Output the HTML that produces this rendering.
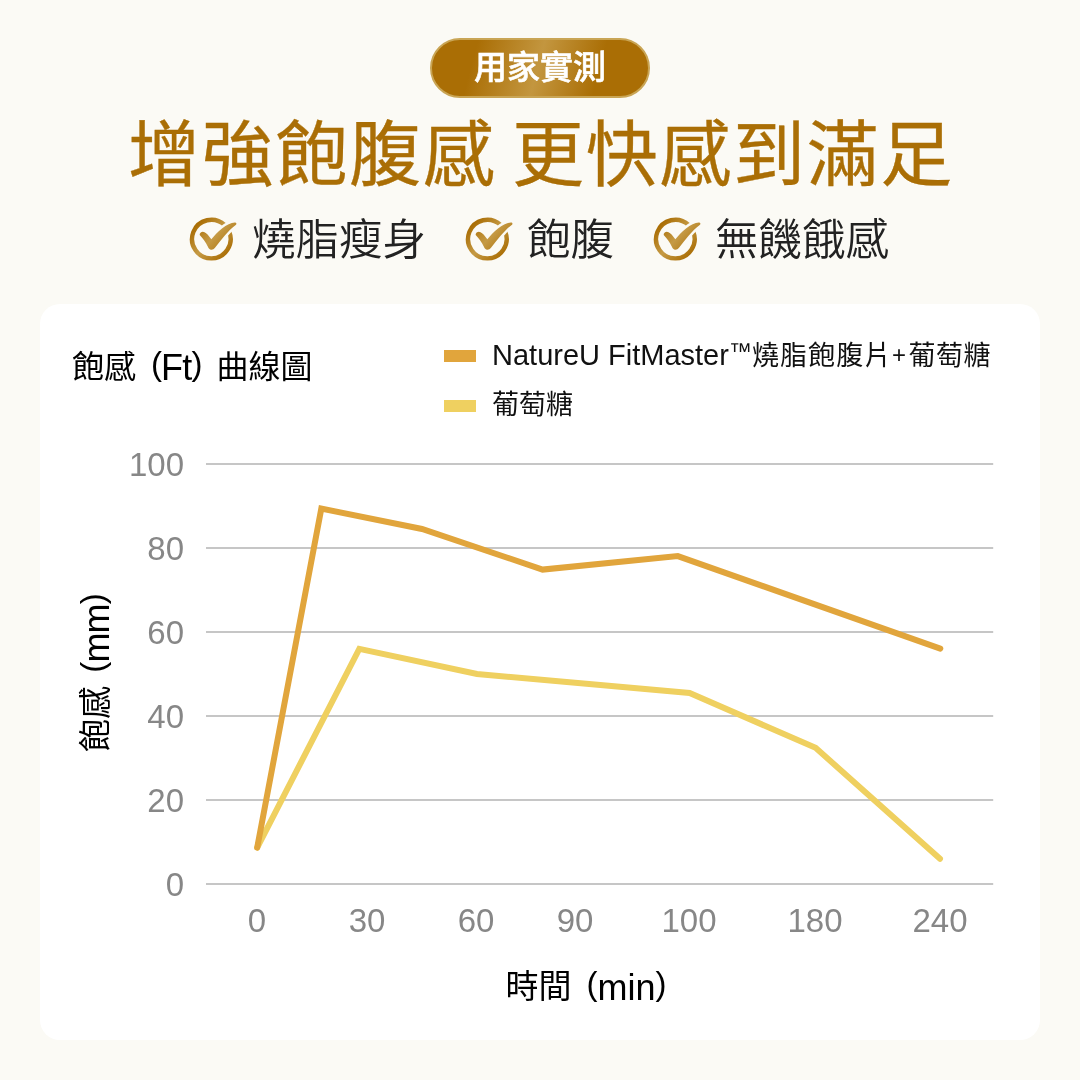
<!DOCTYPE html>
<html lang="zh-Hant">
<head>
<meta charset="utf-8">
<title>增強飽腹感 更快感到滿足</title>
<style>
*{margin:0;padding:0;box-sizing:border-box}
html,body{width:1080px;height:1080px;overflow:hidden}
body{background:#fbfaf5;font-family:"Liberation Sans","Noto Sans CJK TC",sans-serif;position:relative;color:#000}
.abs{position:absolute;white-space:nowrap;will-change:transform}
.pill{left:430px;top:38px;width:220px;height:60px;border-radius:30px;
  background:linear-gradient(105deg,#aa6e05 0%,#aa6e05 20%,#c3963f 49%,#aa6e05 76%,#aa6e05 100%);
  border:2px solid #c9a555;color:#fff;font-weight:500;-webkit-text-stroke:0.6px #fff;font-size:33px;line-height:56px;text-align:center;
  font-family:"Liberation Sans","Noto Sans CJK TC",sans-serif}
.headline{left:0;width:1080px;top:101px;text-align:center;font-size:72px;letter-spacing:1.65px;word-spacing:-6px;padding-left:2px;line-height:108px;color:#aa6e05;font-weight:400;-webkit-text-stroke:0.35px #aa6e05;
  font-family:"Liberation Sans","Noto Sans CJK TC",sans-serif}
.checks{top:208px;left:0;width:1080px;height:64px}
.chk{font-size:43.5px;line-height:64px;color:#222;font-weight:350;top:0}
.card{left:40px;top:304px;width:1000px;height:736px;border-radius:20px;background:#fff}
.title{left:72px;top:343px;font-size:32px;line-height:48px;color:#000;word-spacing:6px}
.leg{left:492px;font-size:27px;line-height:40px;color:#111}
.sw{left:444px;width:32px;height:12px}
.yl{width:100px;left:84px;text-align:right;font-size:33px;line-height:40px;color:#878787}
.xl{width:120px;text-align:center;font-size:33px;line-height:40px;color:#878787;top:901px}
.xt{left:386px;width:400px;text-align:center;top:963px;font-size:33px;word-spacing:6px;line-height:48px}
.yt{left:96px;top:673px;width:0;height:0}
.yt>span{position:absolute;left:-200px;top:-24px;width:400px;text-align:center;font-size:33px;word-spacing:4px;line-height:48px;transform:rotate(-90deg);transform-origin:50% 50%;white-space:nowrap}
svg{position:absolute;left:0;top:0}
.la{font-family:"Liberation Sans",sans-serif;font-size:36px;letter-spacing:-0.8px;position:relative;top:2px}
.pr{font-size:33px;position:relative;top:-5px}
.lb{font-family:"Liberation Sans",sans-serif;font-size:29px}
.tm{font-size:23px;vertical-align:6px}
.la,.lb,.tm,.pl,.pr{line-height:0}
.pl{font-family:"Liberation Sans",sans-serif;font-size:24px;margin-left:-0.5px;margin-right:2.5px;position:relative;top:-2px}
</style>
</head>
<body>
<div class="abs pill">用家實測</div>
<div class="abs headline">增強飽腹感 更快感到滿足</div>

<div class="abs checks">
  <div class="abs chk" style="left:252px">燒脂瘦身</div>
  <div class="abs chk" style="left:527px">飽腹</div>
  <div class="abs chk" style="left:715px">無饑餓感</div>
</div>

<div class="abs card"></div>
<div class="abs title">飽感 <span class="la"><span class="pr">(</span>Ft<span class="pr">)</span></span> 曲線圖</div>

<div class="abs sw" style="top:350px;background:#e1a53c"></div>
<div class="abs leg" style="top:336px"><span class="lb">NatureU FitMaster<span class="tm">™</span></span><span style="letter-spacing:1.1px">燒脂飽腹片</span><span class="pl">+</span><span style="letter-spacing:0.6px">葡萄糖</span></div>
<div class="abs sw" style="top:400px;background:#efd060"></div>
<div class="abs leg" style="top:385px">葡萄糖</div>

<div class="abs yl" style="top:445px">100</div>
<div class="abs yl" style="top:529px">80</div>
<div class="abs yl" style="top:613px">60</div>
<div class="abs yl" style="top:697px">40</div>
<div class="abs yl" style="top:781px">20</div>
<div class="abs yl" style="top:865px">0</div>

<div class="abs xl" style="left:197px">0</div>
<div class="abs xl" style="left:307px">30</div>
<div class="abs xl" style="left:416px">60</div>
<div class="abs xl" style="left:515px">90</div>
<div class="abs xl" style="left:629px">100</div>
<div class="abs xl" style="left:755px">180</div>
<div class="abs xl" style="left:880px">240</div>

<div class="abs xt">時間 <span class="la" style="letter-spacing:0"><span class="pr">(</span>min<span class="pr">)</span></span></div>
<div class="abs yt"><span>飽感 <span class="la"><span class="pr">(</span>mm<span class="pr">)</span></span></span></div>

<svg width="1080" height="1080" viewBox="0 0 1080 1080">
  <defs>
    <linearGradient id="gg" gradientUnits="userSpaceOnUse" x1="8" y1="8" x2="48" y2="46">
      <stop offset="0" stop-color="#aa6e05"/>
      <stop offset="0.12" stop-color="#aa6e05"/>
      <stop offset="0.5" stop-color="#c59a45"/>
      <stop offset="0.9" stop-color="#aa6e05"/>
      <stop offset="1" stop-color="#aa6e05"/>
    </linearGradient>
    <g id="chk">
      <path d="M40.51 12.98 A19.3 19.3 0 1 0 45.24 19.87" fill="none" stroke="url(#gg)" stroke-width="4.4"/>
      <path id="ckp" d="M15.7 23 C15.4 21 17.5 19.6 19.4 19.9 C21 20.2 22.5 21.3 23.6 22.6 L27.3 27.3 C30 24 34 19.3 38 16.4 C42.5 13 47 10.9 50.8 10.5 C52.6 10.4 53 12.1 51.7 13 C48 15.6 44.2 19.6 40.6 23.8 C37 28 33.8 32 31 35.8 C30 37.2 28.6 37.8 27.2 37.7 C25.6 37.6 24.6 36.3 23.9 34.7 C21.8 30.4 19 26.6 15.7 23 Z" fill="#fbfaf5" stroke="#fbfaf5" stroke-width="5" stroke-linejoin="round"/>
      <path d="M15.7 23 C15.4 21 17.5 19.6 19.4 19.9 C21 20.2 22.5 21.3 23.6 22.6 L27.3 27.3 C30 24 34 19.3 38 16.4 C42.5 13 47 10.9 50.8 10.5 C52.6 10.4 53 12.1 51.7 13 C48 15.6 44.2 19.6 40.6 23.8 C37 28 33.8 32 31 35.8 C30 37.2 28.6 37.8 27.2 37.7 C25.6 37.6 24.6 36.3 23.9 34.7 C21.8 30.4 19 26.6 15.7 23 Z" fill="url(#gg)"/>
    </g>
  </defs>
  <use href="#chk" x="184" y="212"/>
  <use href="#chk" x="460" y="212"/>
  <use href="#chk" x="648" y="212"/>
  <g stroke="#c6c6c6" stroke-width="1.8">
    <line x1="206" y1="464" x2="993.2" y2="464"/>
    <line x1="206" y1="548" x2="993.2" y2="548"/>
    <line x1="206" y1="632" x2="993.2" y2="632"/>
    <line x1="206" y1="716" x2="993.2" y2="716"/>
    <line x1="206" y1="800" x2="993.2" y2="800"/>
    <line x1="206" y1="884" x2="993.2" y2="884"/>
  </g>
  <polyline fill="none" stroke="#efd060" stroke-width="6" stroke-linejoin="miter" stroke-linecap="round"
    points="257.2,847.6 359.3,648.8 477,674 689.6,693 815.6,747.8 940,858.7"/>
  <polyline fill="none" stroke="#e1a53c" stroke-width="6" stroke-linejoin="miter" stroke-linecap="round"
    points="257.2,847.6 321.3,508.6 422,529 542.6,569.6 677.8,556.1 940.3,648.6"/>
</svg>
</body>
</html>
